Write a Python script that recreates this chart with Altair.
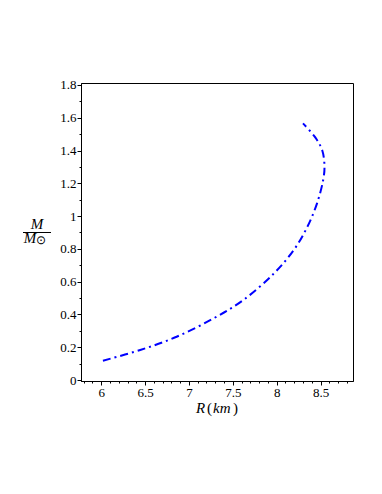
import altair as alt
import pandas as pd

# Mass-radius curve
radius_km = [6.02, 6.445, 6.86, 7.28, 7.62, 7.97, 8.195, 8.35, 8.46, 8.53, 8.545, 8.52, 8.44, 8.30]
mass_msun = [0.118, 0.183, 0.264, 0.376, 0.488, 0.651, 0.793, 0.935, 1.078, 1.220, 1.30, 1.40, 1.48, 1.566]

x_ticks = [round(5.8 + 0.1 * i, 1) for i in range(31)]
y_ticks = [round(0.1 * i, 1) for i in range(19)]

df = pd.DataFrame({"R": radius_km, "M": mass_msun, "order": list(range(len(radius_km)))})

FONT = "Liberation Serif"
W, H = 272, 298

x_scale = alt.Scale(domain=[5.77, 8.87], nice=False, zero=False)
y_scale = alt.Scale(domain=[-0.006, 1.812], nice=False, zero=False)

x_axis = alt.Axis(
    values=x_ticks, title=None, grid=False,
    labelExpr="abs(round(datum.value*10) % 5) == 0 ? format(datum.value, '.1~f') : ''",
    tickSize={"condition": {"test": "abs(round(datum.value*10) % 5) == 0", "value": 4}, "value": 2},
    labelFont=FONT, labelFontSize=13, labelColor="black", labelPadding=1,
    domainColor="black", tickColor="black", labelFlush=False, labelOverlap=False,
)
y_axis = alt.Axis(
    values=y_ticks, title=None, grid=False,
    labelExpr="abs(round(datum.value*10) % 2) == 0 ? format(datum.value, '.1~f') : ''",
    tickSize={"condition": {"test": "abs(round(datum.value*10) % 2) == 0", "value": 4}, "value": 2},
    labelFont=FONT, labelFontSize=13, labelColor="black", labelPadding=1,
    domainColor="black", tickColor="black", labelFlush=False, labelOverlap=False,
)

line = alt.Chart(df).mark_line(
    color="#0000ff", strokeWidth=2, strokeDash=[8, 4, 2, 4], interpolate="catmull-rom"
).encode(
    x=alt.X("R:Q", scale=x_scale, axis=x_axis),
    y=alt.Y("M:Q", scale=y_scale, axis=y_axis),
    order="order:Q",
)

def txt(s, x, y, size=15, style="italic", align="center"):
    return alt.Chart(pd.DataFrame({"t": [s]})).mark_text(
        font=FONT, fontSize=size, fontStyle=style, align=align, baseline="alphabetic", color="black"
    ).encode(text="t:N", x=alt.value(x), y=alt.value(y))

frac_rule = alt.Chart(pd.DataFrame({"a": [0]})).mark_rule(color="black", strokeWidth=1).encode(
    x=alt.value(-58), x2=alt.value(-30), y=alt.value(149.5)
)

chart = alt.layer(
    line,
    txt("M", -44, 146),
    frac_rule,
    txt("M", -51, 159.5),
    txt("\u2299", -40, 161, size=12, style="normal"),
    txt("R", 115, 330, align="left"),
    txt("(", 126, 330, style="normal", align="left"),
    txt("km", 132, 330, align="left"),
    txt(")", 152, 330, style="normal", align="left"),
).properties(
    width=W, height=H,
    autosize=alt.AutoSizeParams(type="none"),
    padding={"left": 73, "top": 75, "right": 20, "bottom": 80},
).configure_view(stroke="black", strokeWidth=1)

chart.save("out.html", embed_options={"renderer": "svg", "actions": False})
